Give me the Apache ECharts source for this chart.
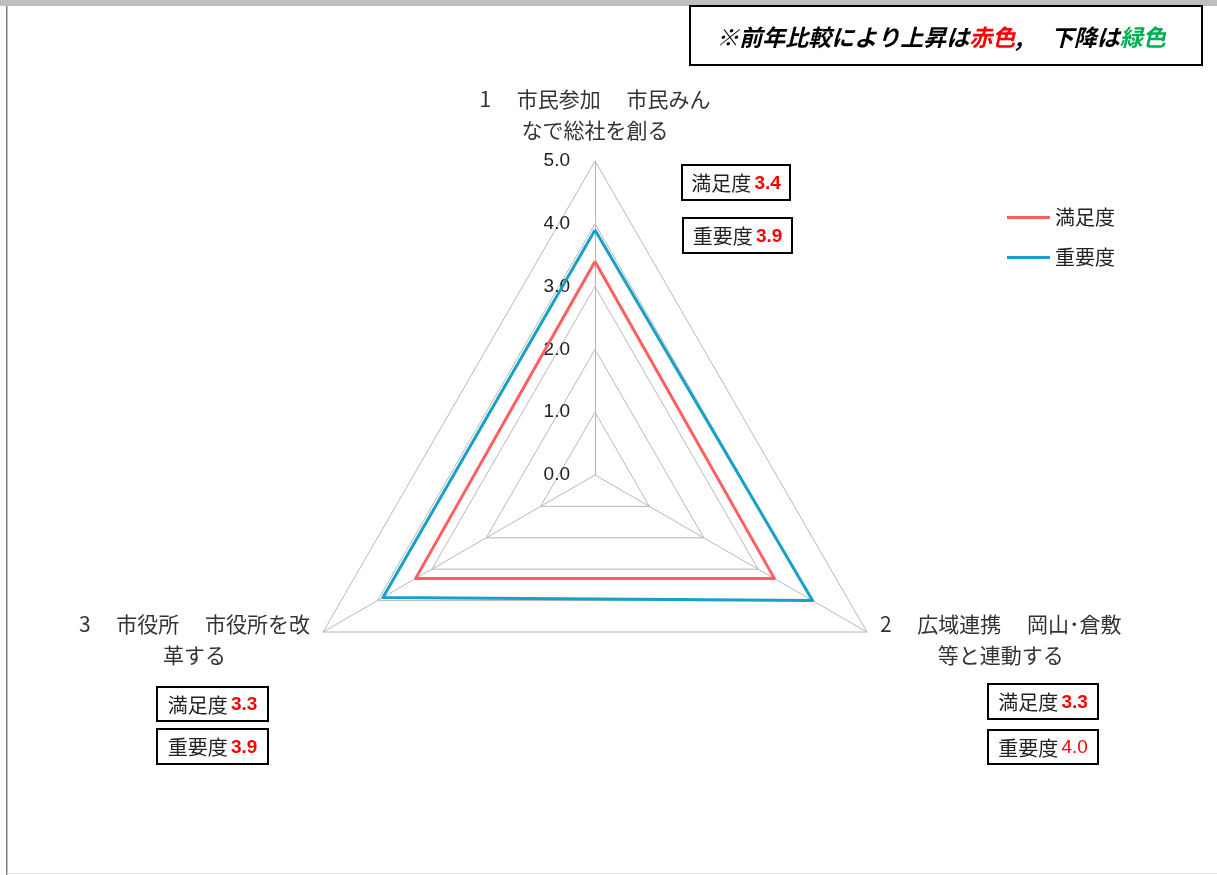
<!DOCTYPE html>
<html><head><meta charset="utf-8">
<script src="https://cdn.jsdelivr.net/npm/echarts@6/dist/echarts.min.js"></script>
<style>html,body{margin:0;padding:0;background:#fff}#c{width:1217px;height:875px}</style>
</head><body><div id="c"></div>
<script>
// ---- data ----
const categories = ['1　 市民参加　 市民みん\nなで総社を創る', '2　 広域連携　 岡山･倉敷\n等と連動する', '3　 市役所　 市役所を改\n革する'];
const seriesNames = ['満足度', '重要度'];
const satisfaction = [3.4, 3.3, 3.3];
const importance = [3.9, 4.0, 3.9];
const tickLabels = ['0.0', '1.0', '2.0', '3.0', '4.0', '5.0'];
const noteParts = ['※前年比較により上昇は', '赤色', ',　 下降は', '緑色'];

// ---- layout / style ----
const JP = '"Noto Sans CJK JP", "Noto Sans", sans-serif';
const NUM = '"Liberation Sans", "Noto Sans", sans-serif';
const RED = '#ff5f5f', BLUE = '#17a0c8';
// ECharts radar places indicators counter-clockwise; reorder so that 1 top, 2 lower right, 3 lower left
const order = [0, 2, 1];
const nameStyles = [
  {},
  {align: 'right', verticalAlign: 'middle'},
  {align: 'left', verticalAlign: 'middle'}
];
function fmtName(s) { return s.split('\n').map(l => '{c|' + l + '}').join('\n'); }

const indicator = order.map((i, k) => {
  const o = {name: fmtName(categories[i]), min: 0, max: 5};
  if (Object.keys(nameStyles[k]).length) o.nameTextStyle = nameStyles[k];
  if (k === 0) o.axisLabel = {
    show: true, margin: 25, fontSize: 19, color: '#222', fontFamily: NUM,
    formatter: v => tickLabels[Math.round(v)]
  };
  return o;
});

// annotation boxes: [x, y, w, h, label, value, bold]
const boxes = [
  [682, 165, 108, 35, seriesNames[0], satisfaction[0], true],
  [683, 218, 109, 35, seriesNames[1], importance[0], true],
  [988, 684, 110, 35, seriesNames[0], satisfaction[1], true],
  [988, 730, 110, 34, seriesNames[1], importance[1], false],
  [157, 687, 111, 34, seriesNames[0], satisfaction[2], true],
  [157, 729, 111, 35, seriesNames[1], importance[2], true]
];
const graphics = [
  {type: 'rect', shape: {x: 0, y: 0, width: 1217, height: 6}, style: {fill: '#bfbfbf'}},
  {type: 'rect', shape: {x: 6, y: 6, width: 1.5, height: 869}, style: {fill: '#808080'}},
  {type: 'rect', shape: {x: 7, y: 873, width: 1210, height: 1}, style: {fill: '#e8e8e8'}},
  {type: 'rect', shape: {x: 690, y: 6, width: 512, height: 59}, style: {fill: '#fff', stroke: '#000', lineWidth: 2}},
  {type: 'text', x: 941, y: 37, style: {
    text: '{k|' + noteParts[0] + '}{r|' + noteParts[1] + '}{k|' + noteParts[2] + '}{g|' + noteParts[3] + '}',
    align: 'center', verticalAlign: 'middle',
    rich: {
      k: {fontFamily: JP, fontSize: 23, fontStyle: 'italic', fontWeight: 'bold', fill: '#000'},
      r: {fontFamily: JP, fontSize: 23, fontStyle: 'italic', fontWeight: 'bold', fill: '#ff0000'},
      g: {fontFamily: JP, fontSize: 23, fontStyle: 'italic', fontWeight: 'bold', fill: '#00b050'}
    }
  }}
];
boxes.forEach(b => {
  graphics.push({type: 'rect', shape: {x: b[0], y: b[1], width: b[2], height: b[3]}, style: {fill: '#fff', stroke: '#000', lineWidth: 2}});
  graphics.push({type: 'text', x: b[0] + b[2] / 2, y: b[1] + b[3] / 2 + 1, style: {
    text: '{l|' + b[4] + '} {' + (b[6] ? 'vb' : 'v') + '|' + b[5].toFixed(1) + '}',
    align: 'center', verticalAlign: 'middle',
    rich: {
      l: {fontFamily: JP, fontSize: 20, fill: '#222'},
      vb: {fontFamily: NUM, fontSize: 19, fontWeight: 'bold', fill: '#ff0000'},
      v: {fontFamily: NUM, fontSize: 19, fill: '#ff0000'}
    }
  }});
});

const chart = echarts.init(document.getElementById('c'), null, {renderer: 'canvas'});
chart.setOption({
  animation: false,
  backgroundColor: '#fff',
  color: [RED, BLUE],
  legend: {
    data: seriesNames, orient: 'vertical', left: 1007, top: 207, padding: 0,
    icon: 'rect', itemWidth: 43, itemHeight: 3, itemGap: 19,
    textStyle: {fontFamily: JP, fontSize: 20, color: '#222', lineHeight: 21}
  },
  radar: {
    center: [595, 475], radius: 314, startAngle: 90, shape: 'polygon', splitNumber: 5,
    indicator: indicator,
    axisNameGap: 15,
    axisName: {
      color: '#333', fontFamily: JP, fontSize: 21,
      rich: {c: {align: 'center', fontFamily: JP, fontSize: 21, lineHeight: 31, color: '#333'}}
    },
    axisLabel: {show: false},
    axisTick: {show: false},
    axisLine: {show: true, lineStyle: {color: '#b8b8b8', width: 1}},
    splitLine: {lineStyle: {color: '#b8b8b8', width: 1}},
    splitArea: {show: false}
  },
  series: [{
    type: 'radar', symbol: 'none',
    data: [
      {name: seriesNames[0], value: order.map(i => satisfaction[i]), lineStyle: {color: RED, width: 3}, itemStyle: {color: RED}},
      {name: seriesNames[1], value: order.map(i => importance[i]), lineStyle: {color: BLUE, width: 3}, itemStyle: {color: BLUE}}
    ]
  }],
  graphic: graphics
});
</script></body></html>
